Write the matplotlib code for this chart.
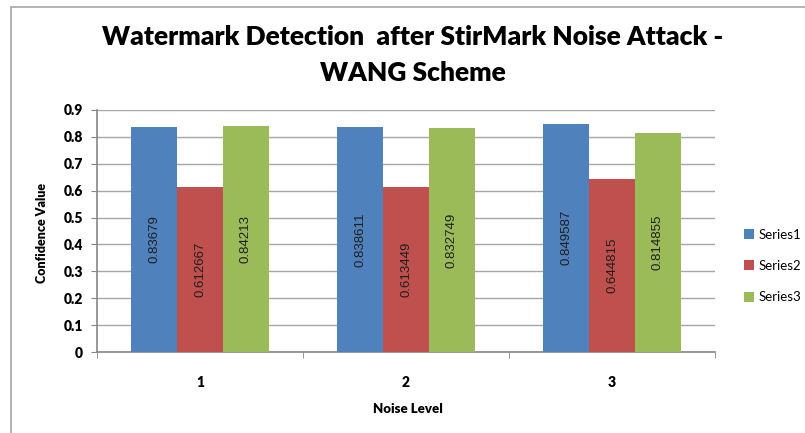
import matplotlib.pyplot as plt
import numpy as np
from matplotlib.patches import Rectangle

# data
categories = ['1', '2', '3']
series1 = [0.83679, 0.838611, 0.849587]
series2 = [0.612667, 0.613449, 0.644815]
series3 = [0.84213, 0.832749, 0.814855]
series_names = ['Series1', 'Series2', 'Series3']
labels1 = ['0.83679', '0.838611', '0.849587']
labels2 = ['0.612667', '0.613449', '0.644815']
labels3 = ['0.84213', '0.832749', '0.814855']
colors = ['#4F81BD', '#C0504D', '#9BBB59']

plt.rcParams['font.family'] = ['Lato', 'DejaVu Sans']

fig = plt.figure(figsize=(8.05, 4.33), dpi=100)
ax = fig.add_axes([97/805, 1-352/433, (715-97)/805, (352-110)/433])

# chart border (cut off on right / bottom like the screenshot)
fig.patches.append(Rectangle((11/805, -0.1), 1.0, 1-7/433+0.1, transform=fig.transFigure,
                             fill=False, edgecolor='#a6a6a6', linewidth=1.2, clip_on=False))

x = np.arange(len(categories))
w = 1 / 4.5
all_vals = [series1, series2, series3]
all_labels = [labels1, labels2, labels3]
for i, (vals, labs) in enumerate(zip(all_vals, all_labels)):
    bars = ax.bar(x + (i - 1) * w, vals, w, color=colors[i], label=series_names[i], zorder=3)
    for b, t in zip(bars, labs):
        ax.text(b.get_x() + b.get_width() / 2, b.get_height() / 2, t, rotation=90,
                ha='center', va='center', fontsize=9.5, color='#1e1e1e',
                family=['Liberation Sans', 'DejaVu Sans'], zorder=4)

ax.set_xlim(-0.5, 2.5)
ax.set_ylim(0, 0.9)
ax.set_yticks(np.arange(0, 0.91, 0.1))
ax.set_yticklabels(['0', '0.1', '0.2', '0.3', '0.4', '0.5', '0.6', '0.7', '0.8', '0.9'])
ax.set_xticks(x)
ax.set_xticklabels(categories)
ax.set_xticks([-0.5, 0.5, 1.5, 2.5], minor=True)
ax.tick_params(axis='x', which='major', length=0, pad=17, labelsize=10)
ax.tick_params(axis='x', which='minor', length=4, color='#868686', direction='out')
ax.tick_params(axis='y', length=4, color='#868686', pad=6, labelsize=10)
for lab in ax.get_xticklabels() + ax.get_yticklabels():
    lab.set_fontweight('heavy')

ax.grid(axis='y', color='#a6a6a6', linewidth=1, zorder=0)
for s in ['top', 'right']:
    ax.spines[s].set_visible(False)
for s in ['left', 'bottom']:
    ax.spines[s].set_color('#868686')
    ax.spines[s].set_linewidth(1.2)

fig.text(413/805, 1-37/433, 'Watermark Detection  after StirMark Noise Attack -',
         ha='center', va='center', fontsize=19, fontweight='heavy')
fig.text(413/805, 1-73/433, 'WANG Scheme', ha='center', va='center', fontsize=19, fontweight='heavy')
fig.text(42/805, 1-233/433, 'Confidence Value', rotation=90, ha='center', va='center',
         fontsize=9, fontweight='heavy')
fig.text(408/805, 1-409/433, 'Noise Level', ha='center', va='center', fontsize=9.5, fontweight='heavy')

fig.legend(loc='center left', bbox_to_anchor=(737/805, 1-266/433), frameon=False,
           fontsize=9.5, handlelength=0.8, handleheight=0.8, handletextpad=0.3,
           labelspacing=1.45, borderpad=0)

fig.savefig('out.png', dpi=100)
